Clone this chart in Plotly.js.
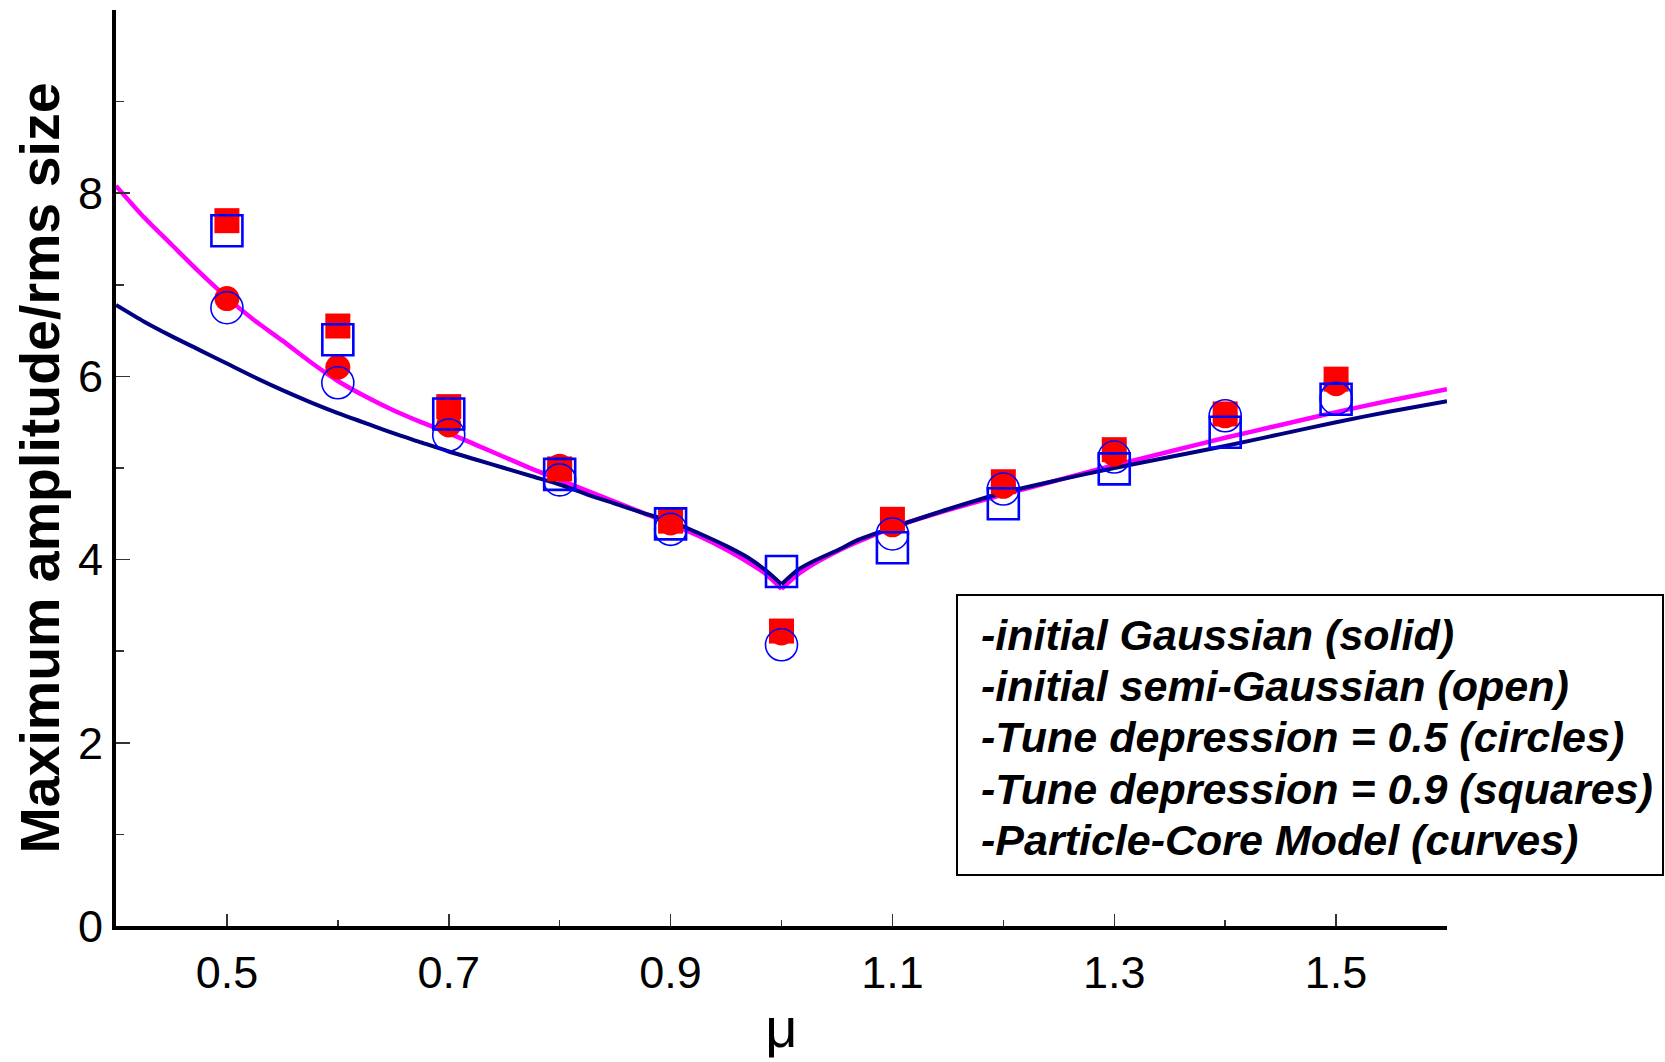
<!DOCTYPE html>
<html><head><meta charset="utf-8">
<script src="https://cdn.plot.ly/plotly-3.0.1.min.js"></script>
<style>body{margin:0;background:#fff}#chart{width:1665px;height:1062px}</style>
</head><body><div id="chart"></div>
<script>
// ---- data ----
const mu = [0.5, 0.6, 0.7, 0.8, 0.9, 1.0, 1.1, 1.2, 1.3, 1.4, 1.5];
const gaussSquares = [7.70, 6.55, 5.67, 4.99, 4.42, 3.22, 4.44, 4.85, 5.20, 5.59, 5.97];
const gaussCircles = [6.85, 6.10, 5.47, 5.02, 4.40, 3.20, 4.38, 4.80, 5.15, 5.57, 5.92];
const semiSquares  = [7.59, 6.40, 5.59, 4.93, 4.39, 3.87, 4.13, 4.61, 4.99, 5.39, 5.75];
const semiCircles  = [6.75, 5.93, 5.36, 4.87, 4.33, 3.07, 4.28, 4.77, 5.12, 5.57, 5.76];

const curveMu = [0.400, 0.425, 0.450, 0.475, 0.500, 0.525, 0.550, 0.575, 0.600, 0.625, 0.650, 0.675, 0.700, 0.725, 0.750, 0.775, 0.800, 0.825, 0.850, 0.875, 0.900, 0.925, 0.950, 0.970, 0.985, 1.000,
                 1.015, 1.030, 1.050, 1.070, 1.100, 1.150, 1.200, 1.250, 1.300, 1.350, 1.400, 1.450, 1.500, 1.550, 1.600];
const curveMagenta = [8.08, 7.74, 7.44, 7.14, 6.86, 6.61, 6.39, 6.16, 5.95, 5.78, 5.63, 5.50, 5.38, 5.25, 5.12, 4.99, 4.87, 4.75, 4.63, 4.51, 4.39, 4.26, 4.11, 3.97, 3.85, 3.68,
                      3.84, 3.96, 4.09, 4.20, 4.35, 4.54, 4.71, 4.87, 5.03, 5.18, 5.33, 5.47, 5.61, 5.74, 5.86];
const curveNavy    = [6.78, 6.60, 6.44, 6.29, 6.14, 5.99, 5.85, 5.72, 5.60, 5.49, 5.38, 5.28, 5.18, 5.09, 5.00, 4.91, 4.82, 4.71, 4.61, 4.51, 4.42, 4.29, 4.15, 4.02, 3.89, 3.73,
                      3.89, 3.99, 4.10, 4.22, 4.35, 4.55, 4.73, 4.87, 5.00, 5.12, 5.24, 5.37, 5.50, 5.62, 5.73];

const xTickVals = [0.5, 0.7, 0.9, 1.1, 1.3, 1.5];
const xTickText = ['0.5', '0.7', '0.9', '1.1', '1.3', '1.5'];
const xMinorVals = [0.6, 0.8, 1.0, 1.2, 1.4];
const yTickVals = [0, 2, 4, 6, 8];
const yTickText = ['0', '2', '4', '6', '8'];
const yMinorVals = [1, 3, 5, 7, 9];

const legendLines = [
  '-initial Gaussian (solid)',
  '-initial semi-Gaussian (open)',
  '-Tune depression = 0.5 (circles)',
  '-Tune depression = 0.9 (squares)',
  '-Particle-Core Model (curves)'
];

// ---- traces ----
const FONT = 'Liberation Sans, Arial, Helvetica, sans-serif';
const cusp = curveMu.indexOf(1.0);
function branch(ys, color, width) {
  return [
    {x: curveMu.slice(0, cusp + 1), y: ys.slice(0, cusp + 1), mode: 'lines', line: {color: color, width: width, shape: 'spline', smoothing: 0.7}, hoverinfo: 'skip'},
    {x: curveMu.slice(cusp), y: ys.slice(cusp), mode: 'lines', line: {color: color, width: width, shape: 'spline', smoothing: 0.7}, hoverinfo: 'skip'}
  ];
}
const traces = [
  ...branch(curveMagenta, '#ff00ff', 4.5),
  ...branch(curveNavy, '#000080', 4),
  {x: mu, y: gaussCircles, mode: 'markers', marker: {symbol: 'circle', size: 25, color: '#ff0000'}},
  {x: mu, y: gaussSquares, mode: 'markers', marker: {symbol: 'square', size: 25, color: '#ff0000'}},
  {x: mu, y: semiCircles, mode: 'markers', marker: {symbol: 'circle-open', size: 32, color: '#0000ff', line: {width: 1.6, color: '#0000ff'}}},
  {x: mu, y: semiSquares, mode: 'markers', marker: {symbol: 'square-open', size: 31, color: '#0000ff', line: {width: 2.6, color: '#0000ff'}}}
];

const L = 116, R = 1447, T = 10, B = 926;
const px2x = p => (p - L) / (R - L);
const px2y = p => (B - p) / (B - T);
const lineY = [635, 686, 737, 789, 840];

const annotations = legendLines.map((t, i) => ({
  text: t, xref: 'paper', yref: 'paper', x: px2x(979), y: px2y(lineY[i]),
  xanchor: 'left', yanchor: 'middle', showarrow: false, align: 'left',
  font: {family: FONT, size: 43, color: '#000', weight: 'bold', style: 'italic'}
}));

const layout = {
  width: 1665, height: 1062,
  margin: {l: L, r: 1665 - R, t: T, b: 1062 - B},
  paper_bgcolor: '#fff', plot_bgcolor: '#fff',
  showlegend: false,
  font: {family: FONT, color: '#000'},
  xaxis: {
    range: [0.4, 1.6], showgrid: false, zeroline: false,
    showline: true, linecolor: '#000', linewidth: 4,
    ticks: 'inside', ticklen: 12, tickwidth: 1.5, tickcolor: '#333',
    tickvals: xTickVals, ticktext: xTickText,
    tickfont: {size: 45, family: FONT, color: '#000'},
    ticklabelstandoff: 4,
    minor: {tickvals: xMinorVals, ticks: 'inside', ticklen: 6, tickwidth: 1.5, tickcolor: '#333'},
    title: {text: 'μ', font: {size: 56, family: FONT, color: '#000'}, standoff: 12}
  },
  yaxis: {
    range: [0, 10], showgrid: false, zeroline: false,
    showline: true, linecolor: '#000', linewidth: 4,
    ticks: 'inside', ticklen: 14, tickwidth: 1.5, tickcolor: '#333',
    tickvals: yTickVals, ticktext: yTickText,
    tickfont: {size: 45, family: FONT, color: '#000'},
    ticklabelstandoff: 0,
    minor: {tickvals: yMinorVals, ticks: 'inside', ticklen: 8, tickwidth: 1.5, tickcolor: '#333'},
    title: {text: 'Maximum amplitude/rms size', font: {size: 55.5, family: FONT, color: '#000', weight: 'bold'}, standoff: 2}
  },
  shapes: [{
    type: 'rect', xref: 'paper', yref: 'paper',
    x0: px2x(957), x1: px2x(1663), y0: px2y(875), y1: px2y(595),
    line: {color: '#000', width: 2}, fillcolor: 'rgba(0,0,0,0)'
  }],
  annotations: annotations
};

Plotly.newPlot('chart', traces, layout, {displayModeBar: false, staticPlot: true});
</script>
</body></html>
